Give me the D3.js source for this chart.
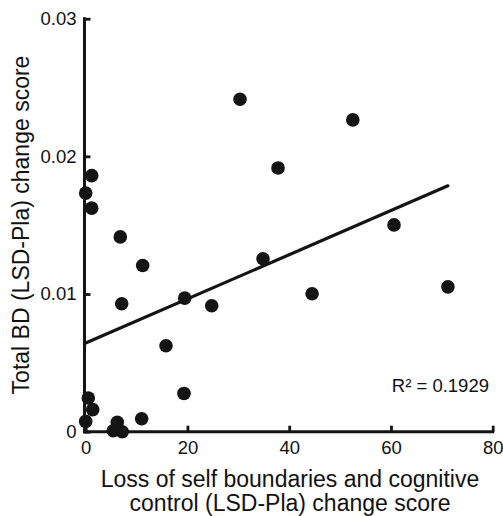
<!DOCTYPE html>
<html>
<head>
<meta charset="utf-8">
<script src="https://cdn.jsdelivr.net/npm/d3@7"></script>
<style>
html,body{margin:0;padding:0;background:#fff;}
svg text{font-family:"Liberation Sans",Arial,sans-serif;fill:#111;}
</style>
</head>
<body>
<svg id="chart" width="503" height="516"></svg>
<script>
// Data
const xValues = [0, 1.18, 1.18, 6.8, 11.2, 7.08, 19.46, 24.77, 15.78, 19.32, 0.51, 1.38, 0, 11.0, 6.21, 5.42, 7.19, 30.33, 37.8, 34.85, 52.5, 60.6, 44.5, 71.2];
const yValues = [0.01733, 0.01860, 0.01624, 0.01415, 0.01207, 0.00929, 0.00970, 0.00915, 0.00624, 0.00278, 0.00245, 0.00160, 0.00075, 0.00094, 0.00068, 0.00007, 0.0, 0.02415, 0.01916, 0.01256, 0.02265, 0.01502, 0.01002, 0.01052];
const fitX = [0, 71.2];
const fitY = [0.00644, 0.01786];
const xTicks = [0, 20, 40, 60, 80];
const yTicks = [0, 0.01, 0.02, 0.03];
const yTickLabels = ["0", "0.01", "0.02", "0.03"];
const xTitle = ["Loss of self boundaries and cognitive", "control (LSD-Pla) change score"];
const yTitle = "Total BD (LSD-Pla) change score";
const r2Label = "R\u00B2 = 0.1929";

const svg = d3.select("#chart");
const x = d3.scaleLinear().domain([0, 80]).range([85.7, 492.7]);
const y = d3.scaleLinear().domain([0, 0.03]).range([431.7, 18.7]);
const ink = "#141414";

// Y axis
const yAxis = d3.axisLeft(y).tickValues(yTicks)
  .tickFormat((d, i) => yTickLabels[i])
  .tickSizeInner(-6).tickSizeOuter(0).tickPadding(14);
const gy = svg.append("g").attr("transform", `translate(${x(0) - 1.2},0)`).call(yAxis);
gy.select(".domain").attr("stroke", ink).attr("stroke-width", 3)
  .attr("d", `M0,${y(0.03) - 1.5}V${y(0) + 1.5}`);
gy.selectAll(".tick line").attr("stroke", ink).attr("stroke-width", 2.8);
gy.selectAll(".tick text").attr("font-size", 18.5).attr("fill", "#111")
  .attr("font-family", "Liberation Sans, Arial, sans-serif").attr("x", -8);

// X axis
const xAxis = d3.axisBottom(x).tickValues(xTicks)
  .tickSizeInner(-6).tickSizeOuter(0).tickPadding(12);
const gx = svg.append("g").attr("transform", `translate(0,${y(0)})`).call(xAxis);
gx.select(".domain").attr("stroke", ink).attr("stroke-width", 3)
  .attr("d", `M${x(0) - 2.5},0H${x(80) + 1.5}`);
gx.selectAll(".tick line").attr("stroke", ink).attr("stroke-width", 2.8);
gx.selectAll(".tick text").attr("font-size", 18.5).attr("fill", "#111")
  .attr("font-family", "Liberation Sans, Arial, sans-serif").attr("y", 9);

// Regression line
svg.append("line")
  .attr("x1", x(fitX[0])).attr("y1", y(fitY[0]))
  .attr("x2", x(fitX[1])).attr("y2", y(fitY[1]))
  .attr("stroke", ink).attr("stroke-width", 3.2).attr("stroke-linecap", "round");

// Points
svg.append("g").selectAll("circle")
  .data(xValues.map((v, i) => [v, yValues[i]]))
  .join("circle")
  .attr("cx", d => x(d[0])).attr("cy", d => y(d[1]))
  .attr("r", 6.8).attr("fill", ink);

// R² label
svg.append("text").attr("x", 489).attr("y", 391.5)
  .attr("text-anchor", "end").attr("font-size", 18.5).text(r2Label);

// Axis titles
svg.append("g").selectAll("text").data(xTitle).join("text")
  .attr("x", 290).attr("y", (d, i) => 487 + i * 24)
  .attr("text-anchor", "middle").attr("font-size", 23).text(d => d);

svg.append("text")
  .attr("transform", "translate(29,225) rotate(-90)")
  .attr("text-anchor", "middle").attr("font-size", 23).text(yTitle);
</script>
</body>
</html>
